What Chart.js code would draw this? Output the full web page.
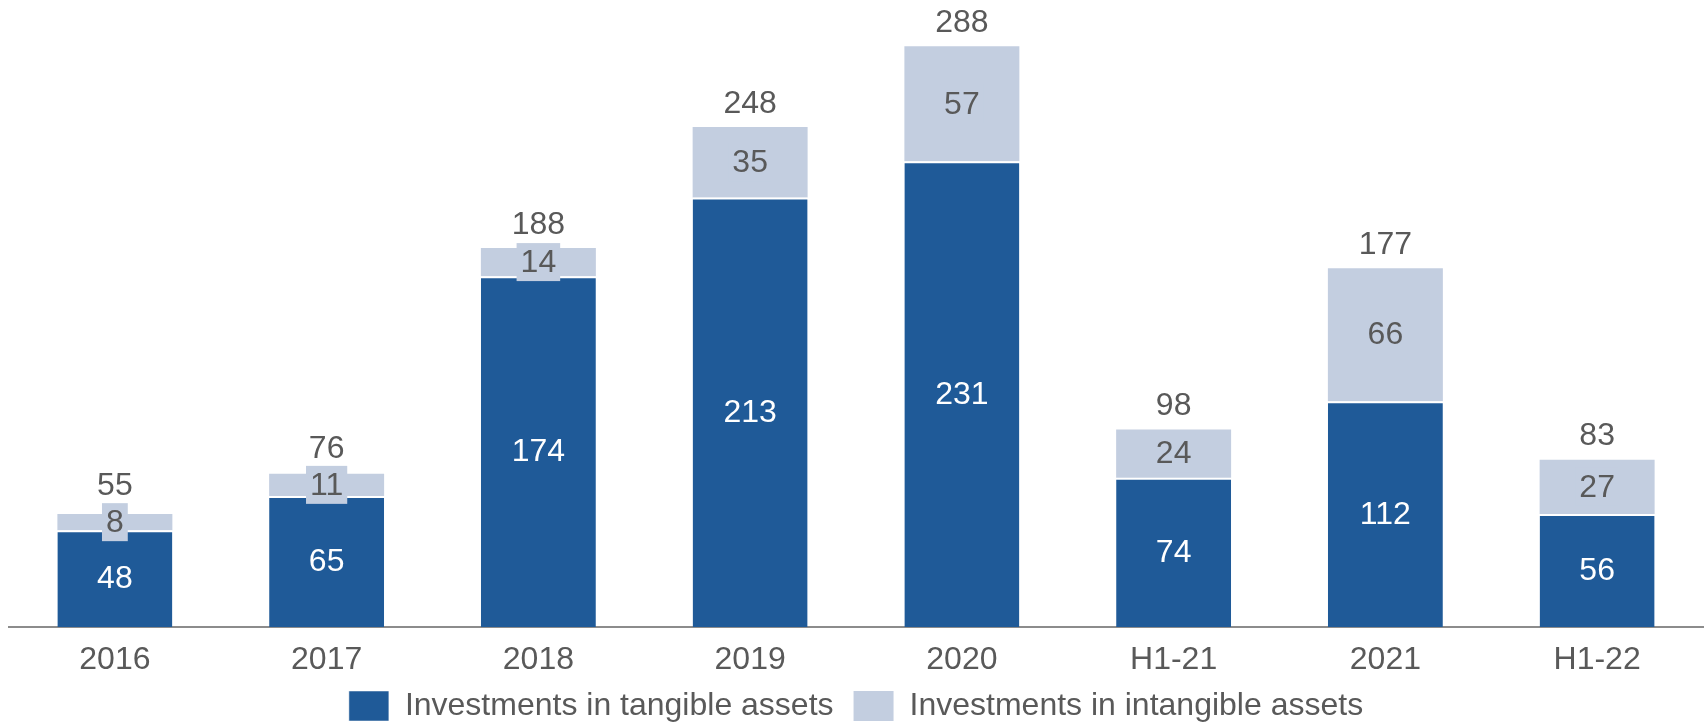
<!DOCTYPE html>
<html>
<head>
<meta charset="utf-8">
<style>
  html, body { margin: 0; padding: 0; background: #fff; }
  #wrap { width: 1705px; height: 725px; }
</style>
<script src="https://cdn.jsdelivr.net/npm/chart.js@4/dist/chart.umd.min.js"></script>
</head>
<body>
<div id="wrap"><canvas id="capex-chart" width="1705" height="725"></canvas></div>
<script>
// Investments by period (EUR m)
var periods = ['2016', '2017', '2018', '2019', '2020', 'H1-21', '2021', 'H1-22'];
var tangible = [48, 65, 174, 213, 231, 74, 112, 56];
var intangible = [8, 11, 14, 35, 57, 24, 66, 27];
// reported totals (rounded, so not always the plain sum)
var totals = [55, 76, 188, 248, 288, 98, 177, 83];

var DARK = '#1f5a98';
var LIGHT = '#c3cee0';
var GREY = '#595959';
var FONT = '"Liberation Sans", Arial, sans-serif';
var FONT_SIZE = 32;

/**
 * Value labels: white inside tangible bars, grey (on a light chip) for
 * intangible, totals on top
 */
var valueLabels = {
    id: 'valueLabels',
    afterDatasetsDraw: function (chart) {
        let ctx = chart.ctx;
        let tBars = chart.getDatasetMeta(0).data;
        let iBars = chart.getDatasetMeta(1).data;

        ctx.save();
        ctx.font = FONT_SIZE + 'px ' + FONT;
        ctx.textAlign = 'center';
        ctx.textBaseline = 'middle';

        for (let i = 0; i < periods.length; i++) {
            let tb = tBars[i], ib = iBars[i];

            // tangible
            ctx.fillStyle = '#fff';
            ctx.fillText(String(tangible[i]), tb.x, (tb.y + tb.base) / 2 + 1);

            // intangible, chip keeps small segments readable
            let txt = String(intangible[i]);
            let cy = (ib.y + ib.base) / 2;
            let w = ctx.measureText(txt).width + 8;
            let chipTop = cy - 19;
            ctx.fillStyle = LIGHT;
            ctx.fillRect(ib.x - w / 2, chipTop, w, 38);
            ctx.fillStyle = GREY;
            ctx.fillText(txt, ib.x, cy + 1);

            // total above the stack
            let ty = Math.min(ib.y - 24, chipTop - 18);
            ctx.fillText(String(totals[i]), ib.x, ty + 1);
        }
        ctx.restore();
    }
};

var ctx = document.getElementById('capex-chart');
var chart = new Chart(ctx, {
    type: 'bar',
    data: {
        labels: periods,
        datasets: [{
            label: 'Investments in tangible assets',
            data: tangible,
            backgroundColor: DARK,
            borderColor: '#fff',
            borderWidth: { top: 2, left: 0, right: 0, bottom: 0 },
            borderSkipped: 'start',
            barPercentage: 0.543,
            categoryPercentage: 1
        }, {
            label: 'Investments in intangible assets',
            data: intangible,
            backgroundColor: LIGHT,
            borderWidth: 0,
            barPercentage: 0.543,
            categoryPercentage: 1
        }]
    },
    options: {
        responsive: false,
        animation: false,
        devicePixelRatio: 1,
        layout: {
            padding: { left: 9, right: 2, top: 0, bottom: -7 }
        },
        scales: {
            x: {
                stacked: true,
                grid: { display: false, drawTicks: false },
                border: { display: true, color: '#8c8c8c', width: 2 },
                ticks: {
                    color: GREY,
                    font: { family: FONT, size: FONT_SIZE },
                    padding: 14
                },
                // fixed band between the axis line and the legend
                afterFit: function (scale) {
                    scale.height = 43;
                }
            },
            y: {
                stacked: true,
                display: false,
                min: 0,
                max: 311
            }
        },
        plugins: {
            legend: {
                position: 'bottom',
                labels: {
                    color: GREY,
                    font: { family: FONT, size: FONT_SIZE },
                    boxWidth: 40,
                    boxHeight: 30,
                    padding: 20
                }
            },
            tooltip: { enabled: false }
        }
    },
    plugins: [valueLabels]
});
</script>
</body>
</html>
